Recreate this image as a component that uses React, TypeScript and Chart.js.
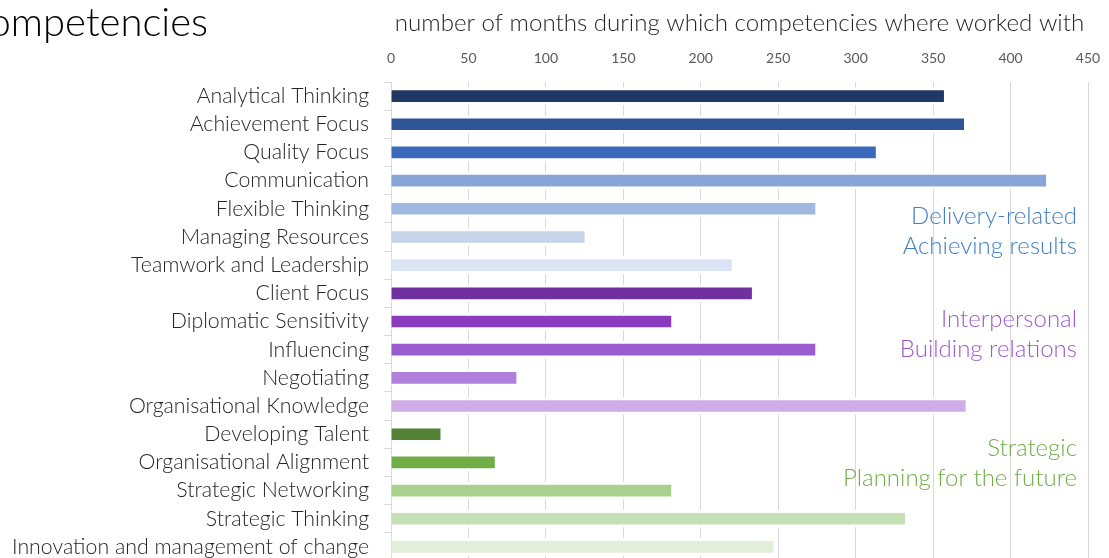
import React, { useEffect, useRef } from "react";
import { Chart, registerables } from "chart.js";

Chart.register(...registerables);

const categories = [
  "Analytical Thinking",
  "Achievement Focus",
  "Quality Focus",
  "Communication",
  "Flexible Thinking",
  "Managing Resources",
  "Teamwork and Leadership",
  "Client Focus",
  "Diplomatic Sensitivity",
  "Influencing",
  "Negotiating",
  "Organisational Knowledge",
  "Developing Talent",
  "Organisational Alignment",
  "Strategic Networking",
  "Strategic Thinking",
  "Innovation and management of change",
];

const months = [357, 370, 313, 423, 274, 125, 220, 233, 181, 274, 81, 371, 32, 67, 181, 332, 247];

const barColors = [
  "#203864",
  "#2f5597",
  "#3b69bb",
  "#87a6d7",
  "#9fb8df",
  "#c5d4eb",
  "#dbe4f4",
  "#7030a0",
  "#8a3bbf",
  "#9b5ccf",
  "#b07fdb",
  "#cfaee8",
  "#548235",
  "#70ad47",
  "#a9d18e",
  "#c5e0b4",
  "#e2efda",
];

const xTickValues = [0, 50, 100, 150, 200, 250, 300, 350, 400, 450];

const chartTitle = "Competencies";
const axisTitle = "number of months during which competencies where worked with";

const groupLines = [
  ["Delivery-related", "Achieving results"],
  ["Interpersonal", "Building relations"],
  ["Strategic", "Planning for the future"],
];
const groupColors = ["#3f7fc4", "#9b59d0", "#70ad47"];

const FONT = "Lato, 'Open Sans', sans-serif";

export default function App() {
  const ref = useRef<HTMLCanvasElement>(null);

  useEffect(() => {
    const canvas = ref.current;
    if (!canvas) return;

    const notesPlugin = {
      id: "notes",
      afterDraw(chart: any) {
        const { ctx, chartArea, scales } = chart;
        const y = scales.y;
        const band = y.getPixelForValue(1) - y.getPixelForValue(0);
        const anchors = [4.81, 8.46, 13.03];
        ctx.save();
        ctx.font = `300 24px ${FONT}`;
        ctx.textAlign = "right";
        ctx.textBaseline = "middle";
        groupLines.forEach((lines, gi) => {
          const mid = y.getPixelForValue(anchors[gi]);
          ctx.fillStyle = groupColors[gi];
          lines.forEach((t, li) => {
            ctx.fillText(t, chartArea.right - 11, mid + (li - 0.5) * band * 1.065);
          });
        });
        ctx.font = `300 40px ${FONT}`;
        ctx.fillStyle = "#000000";
        ctx.textBaseline = "alphabetic";
        ctx.fillText(chartTitle, 208, 36);
        ctx.restore();
      },
    };

    const chart = new Chart(canvas, {
      type: "bar",
      data: {
        labels: categories,
        datasets: [
          {
            data: months,
            backgroundColor: barColors,
            borderColor: "#ffffff",
            borderWidth: { top: 3, bottom: 3, left: 0, right: 0 },
            borderSkipped: false,
            barThickness: 17,
          },
        ],
      },
      options: {
        indexAxis: "y",
        animation: false,
        responsive: true,
        maintainAspectRatio: false,
        layout: { padding: { left: 0, right: 21, top: 0, bottom: 0 } },
        plugins: { legend: { display: false }, tooltip: { enabled: false } },
        scales: {
          x: {
            position: "top",
            min: 0,
            max: 450,
            afterBuildTicks: (s: any) => {
              s.ticks = xTickValues.map((v) => ({ value: v }));
            },
            ticks: { color: "#595959", font: { family: FONT, size: 14 }, padding: 15 },
            grid: { color: "#d9d9d9", drawTicks: false },
            border: { display: false },
            title: {
              display: true,
              text: axisTitle,
              color: "#262626",
              font: { family: FONT, size: 24.1, weight: 300 },
              padding: { top: 9, bottom: 0 },
            },
            afterFit: (s: any) => {
              s.height = 82;
              s.paddingLeft = 0;
              s.paddingRight = 0;
            },
          },
          y: {
            z: 1,
            ticks: { color: "#262626", font: { family: FONT, size: 21.3, weight: 300 }, padding: 15, autoSkip: false },
            grid: { drawOnChartArea: false, tickLength: 7, color: "#d9d9d9" },
            border: { color: "#d9d9d9" },
            afterFit: (s: any) => {
              s.width = 391;
              s.paddingTop = 0;
              s.paddingBottom = 0;
            },
          },
        },
      },
      plugins: [notesPlugin],
    } as any);

    return () => chart.destroy();
  }, []);

  return (
    <div
      style={{
        position: "fixed",
        left: 0,
        top: 0,
        width: 1109,
        height: 558,
        overflow: "hidden",
        background: "#ffffff",
      }}
    >
      <div style={{ position: "relative", width: 1109, height: 561 }}>
        <canvas ref={ref} />
      </div>
    </div>
  );
}
